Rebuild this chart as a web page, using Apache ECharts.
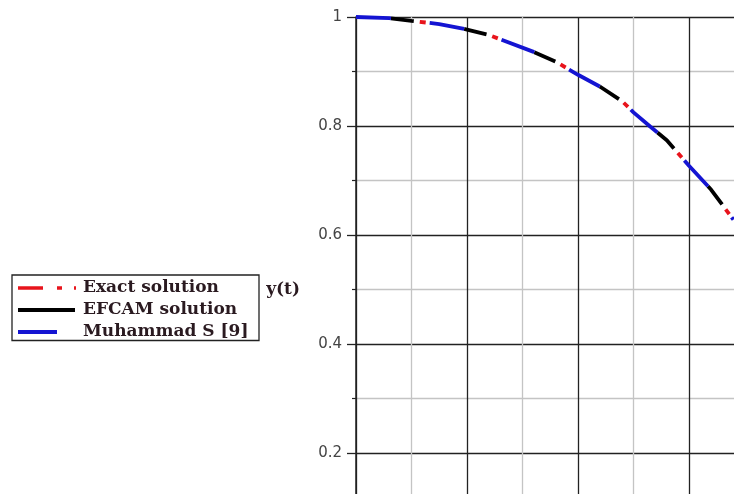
<!DOCTYPE html>
<html>
<head>
<meta charset="utf-8">
<script src="https://cdn.jsdelivr.net/npm/echarts@6/dist/echarts.min.js"></script>
<style>
html,body{margin:0;padding:0;background:#fff;}
#chart{width:734px;height:494px;}
</style>
</head>
<body>
<div id="chart"></div>
<script>
// ---- data ----
const seriesNames = ['Exact solution', 'EFCAM solution', 'Muhammad S [9]'];
const tValues   = [0, 0.06, 0.1, 0.15, 0.2, 0.24, 0.26, 0.32, 0.36, 0.4, 0.44, 0.48, 0.5, 0.53, 0.56, 0.6, 0.64, 0.68];
const exactY    = [1, 0.998, 0.993, 0.987, 0.977, 0.967, 0.959, 0.936, 0.918, 0.894, 0.872, 0.845, 0.825, 0.799, 0.774, 0.727, 0.683, 0.628];
const efcamY    = [1, 0.998, 0.993, 0.987, 0.977, 0.967, 0.959, 0.936, 0.918, 0.894, 0.872, 0.845, 0.825, 0.799, 0.774, 0.727, 0.683, 0.628];
const muhammadY = [1, 0.998, 0.993, 0.987, 0.977, 0.967, 0.959, 0.936, 0.918, 0.894, 0.872, 0.845, 0.825, 0.799, 0.774, 0.727, 0.683, 0.628];
const yTickLabels = {0.2: '0.2', 0.4: '0.4', 0.6: '0.6', 0.8: '0.8', 1: '1'};

function pairs(xs, ys) { return xs.map((x, i) => [x, ys[i]]); }

const RED = '#e8141c', BLACK = '#000000', BLUE = '#1414d2';
// legend sample glyphs (58 x 14 boxes; invisible corner points fix the box size)
const box = 'M0,0L0,0M58,14L58,14';
const seg = (a, b, h) => `M${a},${7 - h / 2}L${b},${7 - h / 2}L${b},${7 + h / 2}L${a},${7 + h / 2}Z`;
const iconRed   = 'path://' + box + seg(0, 25, 3.5) + seg(39, 44, 3.5) + seg(56, 58, 3.5);
const iconBlack = 'path://' + box + seg(0, 57, 4);
const iconBlue  = 'path://' + box + seg(0, 39, 4);

const chart = echarts.init(document.getElementById('chart'), null, {renderer: 'canvas'});
const serifBold = "'DejaVu Serif', 'Liberation Serif', serif";

chart.setOption({
  animation: false,
  backgroundColor: '#ffffff',
  grid: {left: 356, top: 17, right: -177, bottom: -68, containLabel: false, outerBoundsMode: 'none'},
  legend: {
    orient: 'vertical',
    left: 12, top: 275,
    padding: [4.5, 6, 0, 6],
    borderColor: '#222', borderWidth: 1.3,
    itemWidth: 58, itemHeight: 14, itemGap: 5,
    align: 'left',
    symbolKeepAspect: false,
    textStyle: {fontFamily: serifBold, fontWeight: 'bold', fontSize: 17, color: '#2a1a20',
                lineHeight: 16, width: 170, padding: [0, 0, 0, 2]},
    data: [
      {name: seriesNames[0], icon: iconRed,   itemStyle: {color: RED, borderWidth: 0}},
      {name: seriesNames[1], icon: iconBlack, itemStyle: {color: BLACK, borderWidth: 0}},
      {name: seriesNames[2], icon: iconBlue,  itemStyle: {color: BLUE, borderWidth: 0}}
    ]
  },
  xAxis: {
    type: 'value', min: 0, max: 1, interval: 0.2,
    axisLine: {show: true, lineStyle: {color: '#222', width: 1.5}},
    axisTick: {show: false},
    axisLabel: {show: false},
    splitLine: {show: true, lineStyle: {color: '#222', width: 1.3}},
    minorTick: {show: false, splitNumber: 2},
    minorSplitLine: {show: true, lineStyle: {color: '#c4c4c4', width: 1.3}}
  },
  yAxis: {
    type: 'value', min: 0, max: 1, interval: 0.2,
    name: 'y(t)', nameLocation: 'middle', nameRotate: 0, nameGap: 56,
    nameTextStyle: {fontFamily: serifBold, fontWeight: 'bold', fontSize: 17, color: '#2a1a20'},
    axisLine: {show: true, lineStyle: {color: '#222', width: 1.5}},
    axisTick: {show: true, length: 9, lineStyle: {color: '#222', width: 1.3}},
    minorTick: {show: true, splitNumber: 2, length: 4, lineStyle: {color: '#222', width: 1.2}},
    axisLabel: {
      margin: 14, color: '#444', fontSize: 15, fontFamily: "'DejaVu Sans', sans-serif",
      formatter: v => yTickLabels[Math.round(v * 10) / 10] || ''
    },
    splitLine: {show: true, lineStyle: {color: '#222', width: 1.3}},
    minorSplitLine: {show: true, lineStyle: {color: '#c4c4c4', width: 1.3}}
  },
  series: [
    {
      name: seriesNames[0], type: 'line', showSymbol: false, symbol: 'none', z: 2,
      data: pairs(tValues, exactY),
      itemStyle: {color: RED},
      lineStyle: {color: RED, width: 3.8, type: [6, 68], dashOffset: 10}
    },
    {
      name: seriesNames[1], type: 'line', showSymbol: false, symbol: 'none', z: 3,
      data: pairs(tValues, efcamY),
      itemStyle: {color: BLACK},
      lineStyle: {color: BLACK, width: 3.8, type: [23, 51], dashOffset: 39}
    },
    {
      name: seriesNames[2], type: 'line', showSymbol: false, symbol: 'none', z: 4,
      data: pairs(tValues, muhammadY),
      itemStyle: {color: BLUE},
      lineStyle: {color: BLUE, width: 3.8, type: [35, 39], dashOffset: 0}
    }
  ]
});
</script>
</body>
</html>
